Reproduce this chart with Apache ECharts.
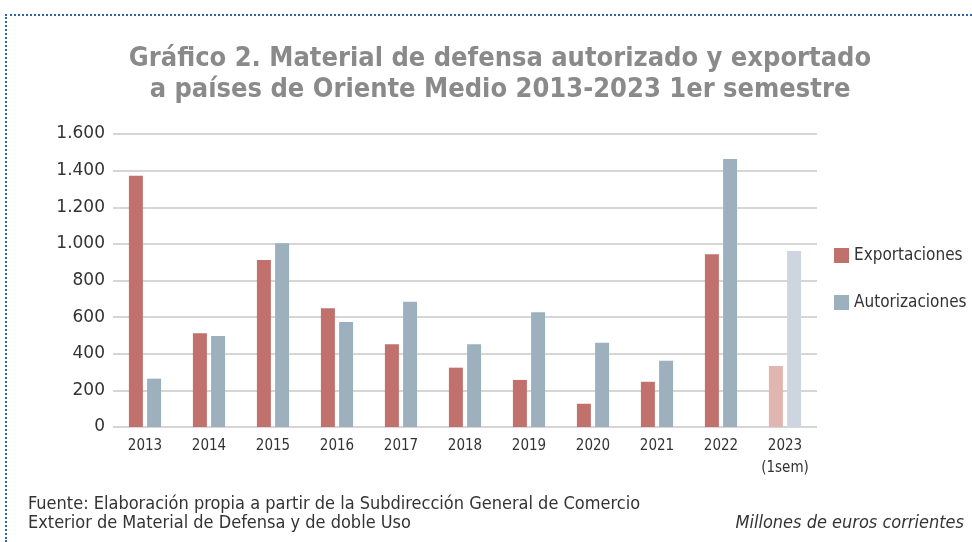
<!DOCTYPE html>
<html>
<head>
<meta charset="utf-8">
<script src="https://cdn.jsdelivr.net/npm/echarts@6/dist/echarts.min.js"></script>
<style>
  html, body { margin: 0; padding: 0; background: #fff; }
  #frame { position: absolute; left: 5px; top: 14px; width: 967px; height: 528px;
    border-top: 2px dotted #2f62a8; border-left: 2px dotted #2f62a8; box-sizing: border-box; }
  #chart { position: absolute; left: 0; top: 0; width: 972px; height: 542px; }
</style>
</head>
<body>
<div id="frame"></div>
<div id="chart"></div>
<script>
const years = ['2013', '2014', '2015', '2016', '2017', '2018', '2019', '2020', '2021', '2022', '2023\n(1sem)']
const exportaciones = [1372, 512, 912, 648, 452, 324, 257, 127, 247, 943, 333]
const autorizaciones = [264, 497, 1003, 573, 684, 452, 626, 460, 362, 1464, 961]
const seriesNames = ['Exportaciones', 'Autorizaciones']

const colors = ['#c0716b', '#9cb0be']
const lightColors = ['#e0b6b0', '#cdd6df']
const font = 'DejaVu Sans Condensed'

// last year (first semester only) is drawn lighter
function withLastLight (values, light) {
  return values.map((v, i) => i === values.length - 1 ? { value: v, itemStyle: { color: light } } : v)
}

const fmt = v => String(v).replace(/\B(?=(\d{3})+(?!\d))/g, '.')

const chart = echarts.init(document.getElementById('chart'))
chart.setOption({
  animation: false,
  textStyle: { fontFamily: font },
  title: {
    text: 'Gráfico 2. Material de defensa autorizado y exportado\na países de Oriente Medio 2013-2023 1er semestre',
    left: 495,
    textAlign: 'center',
    top: 38,
    textStyle: { fontFamily: font, fontWeight: 'bold', fontSize: 27, color: '#8a8a8a', lineHeight: 31 }
  },
  legend: {
    data: seriesNames,
    orient: 'vertical',
    icon: 'rect',
    left: 829,
    top: 242,
    itemWidth: 15,
    itemHeight: 15,
    itemGap: 30,
    textStyle: { fontFamily: font, fontSize: 17, color: '#333' }
  },
  grid: { left: 113, right: 155, top: 134, bottom: 115 },
  xAxis: {
    type: 'category',
    data: years,
    axisLine: { show: false },
    axisTick: { show: false },
    axisLabel: { fontFamily: font, fontSize: 15, color: '#333', margin: 8, lineHeight: 22 }
  },
  yAxis: {
    type: 'value',
    min: 0,
    max: 1600,
    interval: 200,
    axisLabel: { formatter: fmt, fontFamily: 'DejaVu Sans', fontSize: 17, color: '#333', margin: 8 },
    splitLine: { lineStyle: { color: '#c8c8c8', width: 1.5 } }
  },
  series: [
    {
      name: seriesNames[0],
      type: 'bar',
      data: withLastLight(exportaciones, lightColors[0]),
      barWidth: 14,
      barGap: '30%',
      itemStyle: { color: colors[0] }
    },
    {
      name: seriesNames[1],
      type: 'bar',
      data: withLastLight(autorizaciones, lightColors[1]),
      barWidth: 14,
      barGap: '30%',
      itemStyle: { color: colors[1] }
    }
  ],
  graphic: [
    {
      type: 'text',
      left: 28,
      top: 495,
      style: {
        text: 'Fuente: Elaboración propia a partir de la Subdirección General de Comercio\nExterior de Material de Defensa y de doble Uso',
        font: '18px "DejaVu Sans Condensed"',
        fill: '#333',
        lineHeight: 19
      }
    },
    {
      type: 'text',
      right: 8,
      top: 514,
      style: {
        text: 'Millones de euros corrientes',
        font: 'italic 18px "DejaVu Sans Condensed"',
        fill: '#333'
      }
    }
  ]
})
</script>
</body>
</html>
